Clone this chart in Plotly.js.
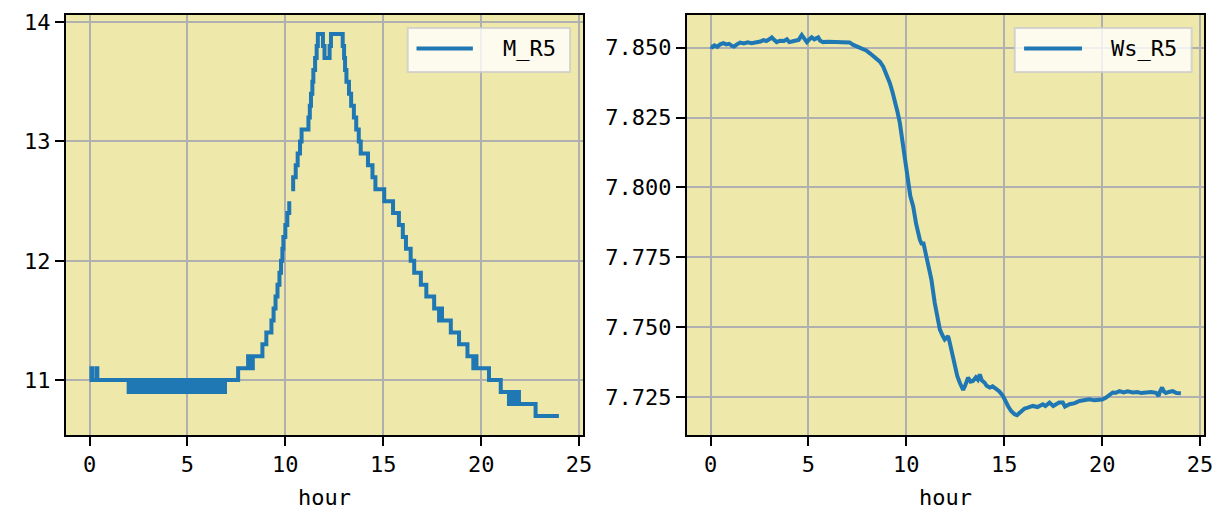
<!DOCTYPE html>
<html>
<head>
<meta charset="utf-8">
<script src="https://cdn.plot.ly/plotly-3.0.1.min.js"></script>
<style>html,body{margin:0;padding:0;background:#fff;}#chart{width:1224px;height:525px;}</style>
</head>
<body>
<div id="chart"></div>
<script>
// ---- Left panel: M_R5 (step data, hour vs value) ----
const hourM = [
  0.00, 0.10, 0.14, 0.36, 0.40,
  2.00, 2.05, 2.09, 2.16, 2.20, 2.27, 2.31, 2.38, 2.42, 2.49, 2.53, 2.60, 2.64, 2.72, 2.76, 2.83, 2.87, 2.95, 2.99, 3.06,
  3.10, 3.18, 3.22, 3.30, 3.34, 3.41, 3.45, 3.52, 3.58, 3.66, 3.80, 3.84, 3.88, 3.95, 3.99, 4.07, 4.11, 4.19, 4.23, 4.30,
  4.34, 4.42, 4.53, 4.60, 4.64, 4.72, 4.76, 4.83, 4.87, 4.95, 5.00, 5.07, 5.11, 5.19, 5.30, 5.38, 5.42, 5.50, 5.54, 5.62,
  5.66, 5.74, 5.78, 5.86, 5.90, 5.98, 6.02, 6.10, 6.14, 6.22, 6.26, 6.34, 6.38, 6.46, 6.50, 6.58, 6.62, 6.70, 6.74, 6.82,
  6.86, 6.92,
  7.59, 8.10, 8.14, 8.18, 8.22, 8.26, 8.30, 8.34, 8.83, 9.03, 9.29, 9.40, 9.50, 9.60, 9.70, 9.78, 9.85, 9.90, 10.00,
  10.10, 10.20, 10.27, 10.30, 10.40, 10.53, 10.63, 10.75, 10.83, 11.18, 11.25, 11.31, 11.38, 11.43, 11.52, 11.60, 11.66,
  11.92, 12.00, 12.26, 12.33, 12.93, 13.00, 13.05, 13.12, 13.25, 13.36, 13.50, 13.62, 13.75, 13.85, 14.22, 14.45, 14.60,
  15.05, 15.50, 15.80, 16.00, 16.16, 16.40, 16.58, 16.92, 17.20, 17.60, 17.85, 17.89, 17.93, 17.96, 18.00, 18.45, 18.87,
  19.30, 19.60, 19.64, 19.68, 19.72, 19.76, 20.40, 21.00, 21.42, 21.47, 21.52, 21.57, 21.62, 21.67, 21.72, 21.77, 21.82,
  21.87, 21.93, 22.78, 23.97
];
const valM = [
  11.0, 11.1, 11.0, 11.1, 11.0,
  10.9, 11.0, 10.9, 11.0, 10.9, 11.0, 10.9, 11.0, 10.9, 11.0, 10.9, 11.0, 10.9, 11.0, 10.9, 11.0, 10.9, 11.0, 10.9, 11.0,
  10.9, 11.0, 10.9, 11.0, 10.9, 11.0, 10.9, 11.0, 10.9, 11.0, 10.9, 11.0, 10.9, 11.0, 10.9, 11.0, 10.9, 11.0, 10.9, 11.0,
  10.9, 11.0, 10.9, 11.0, 10.9, 11.0, 10.9, 11.0, 10.9, 11.0, 10.9, 11.0, 10.9, 11.0, 10.9, 11.0, 10.9, 11.0, 10.9, 11.0,
  10.9, 11.0, 10.9, 11.0, 10.9, 11.0, 10.9, 11.0, 10.9, 11.0, 10.9, 11.0, 10.9, 11.0, 10.9, 11.0, 10.9, 11.0, 10.9, 11.0,
  10.9, 11.0,
  11.1, 11.2, 11.1, 11.2, 11.1, 11.2, 11.1, 11.2, 11.3, 11.4, 11.5, 11.6, 11.7, 11.8, 11.9, 12.0, 12.1, 12.2, 12.3,
  12.4, 12.5, null, 12.6, 12.7, 12.8, 12.9, 13.0, 13.1, 13.2, 13.3, 13.4, 13.5, 13.6, 13.7, 13.8, 13.9,
  13.8, 13.7, 13.8, 13.9, 13.8, 13.7, 13.6, 13.5, 13.4, 13.3, 13.2, 13.1, 13.0, 12.9, 12.8, 12.7, 12.6,
  12.5, 12.4, 12.3, 12.2, 12.1, 12.0, 11.9, 11.8, 11.7, 11.6, 11.5, 11.6, 11.5, 11.6, 11.5, 11.4, 11.3,
  11.2, 11.1, 11.2, 11.1, 11.2, 11.1, 11.0, 10.9, 10.8, 10.9, 10.8, 10.9, 10.8, 10.9, 10.8, 10.9, 10.8,
  10.9, 10.8, 10.7, 10.7
];

// ---- Right panel: Ws_R5 ----
const hourW = [
  0.00, 0.10, 0.20, 0.35, 0.50, 0.66, 0.80, 0.95, 1.10, 1.20, 1.35, 1.51, 1.70, 1.90, 2.10, 2.36, 2.55, 2.70, 2.85, 3.00,
  3.13, 3.25, 3.38, 3.55, 3.75, 3.90, 4.02, 4.15, 4.30, 4.50, 4.66, 4.80, 4.92, 5.05, 5.17, 5.30, 5.50, 5.60, 5.75, 6.00,
  6.26, 6.50, 6.70, 6.95, 7.10, 7.29, 7.45, 7.63, 7.80, 7.95, 8.14, 8.30, 8.48, 8.65, 8.82, 9.00, 9.16, 9.30, 9.41, 9.55,
  9.67, 9.75, 9.84, 9.95, 10.09, 10.20, 10.35, 10.50, 10.69, 10.80, 10.86, 10.95, 11.03, 11.15, 11.28, 11.45, 11.60, 11.71,
  11.85, 11.96, 12.05, 12.13, 12.20, 12.30, 12.47, 12.60, 12.73, 12.90, 13.00, 13.15, 13.28, 13.40, 13.55, 13.65, 13.75,
  13.85, 14.00, 14.10, 14.26, 14.40, 14.60, 14.75, 14.93, 15.05, 15.19, 15.35, 15.53, 15.65, 15.79, 15.90, 16.04, 16.20,
  16.46, 16.70, 16.97, 17.10, 17.31, 17.50, 17.65, 17.80, 17.99, 18.10, 18.33, 18.60, 18.84, 19.10, 19.35, 19.60, 19.85,
  20.00, 20.20, 20.40, 20.54, 20.70, 20.88, 21.10, 21.30, 21.56, 21.80, 22.00, 22.24, 22.50, 22.75, 22.88, 22.95, 23.06,
  23.15, 23.26, 23.40, 23.60, 23.80, 24.02
];
const valW = [
  7.8505, 7.8502, 7.8508, 7.8503, 7.8512, 7.8516, 7.8512, 7.8514, 7.8506, 7.8504, 7.8512, 7.8518, 7.8515, 7.8519, 7.8516,
  7.8518, 7.8522, 7.8527, 7.8524, 7.8530, 7.8537, 7.8528, 7.8520, 7.8525, 7.8524, 7.8530, 7.8520, 7.8522, 7.8525, 7.8528,
  7.8545, 7.8528, 7.8520, 7.8530, 7.8537, 7.8530, 7.8537, 7.8525, 7.8520, 7.8521, 7.8520, 7.8520, 7.8519, 7.8518, 7.8519,
  7.8510, 7.8505, 7.8498, 7.8495, 7.8490, 7.8480, 7.8470, 7.8462, 7.8450, 7.8432, 7.8405, 7.8373, 7.8340, 7.8313, 7.8270,
  7.8230, 7.8190, 7.8135, 7.8070, 7.8004, 7.7970, 7.7932, 7.7870, 7.7813, 7.7795, 7.7805, 7.7775, 7.7742, 7.7710, 7.7670,
  7.7587, 7.7520, 7.7492, 7.7470, 7.7456, 7.7462, 7.7468, 7.7450, 7.7420, 7.7360, 7.7325, 7.7301, 7.7275, 7.7290, 7.7319,
  7.7305, 7.7307, 7.7320, 7.7312, 7.7331, 7.7310, 7.7301, 7.7290, 7.7284, 7.7288, 7.7278, 7.7270, 7.7254, 7.7235, 7.7218,
  7.7200, 7.7188, 7.7185, 7.7194, 7.7202, 7.7209, 7.7212, 7.7218, 7.7214, 7.7224, 7.7218, 7.7230, 7.7218, 7.7224, 7.7230,
  7.7230, 7.7216, 7.7224, 7.7228, 7.7236, 7.7238, 7.7242, 7.7238, 7.7242, 7.7241, 7.7248, 7.7260, 7.7266, 7.7265, 7.7271,
  7.7266, 7.7270, 7.7266, 7.7268, 7.7264, 7.7266, 7.7268, 7.7265, 7.7254, 7.7270, 7.7284, 7.7270, 7.7264, 7.7268, 7.7271,
  7.7264, 7.7263
];

const xTicks = [0, 5, 10, 15, 20, 25];
const yTicksM = [11, 12, 13, 14];
const yTicksW = [7.725, 7.750, 7.775, 7.800, 7.825, 7.850];
const seriesNames = ['M_R5', 'Ws_R5'];
const xTitle = 'hour';

const lineColor = '#1f77b4';
const FONT = '"DejaVu Sans Mono", monospace';
const FS = 22;
const LW = 4;

const traces = [
  {x: hourM, y: valM, type: 'scatter', mode: 'lines', name: seriesNames[0],
   line: {color: lineColor, width: LW, shape: 'hv'}, connectgaps: false, xaxis: 'x', yaxis: 'y', showlegend: false},
  {x: hourW, y: valW, type: 'scatter', mode: 'lines', name: seriesNames[1],
   line: {color: lineColor, width: LW}, xaxis: 'x2', yaxis: 'y2', showlegend: false}
];

function xAxis(domain, anchor) {
  return {
    domain: domain, anchor: anchor, range: [-1.2, 25.2], tickvals: xTicks,
    ticks: 'outside', ticklen: 9, tickwidth: 2, tickcolor: '#000',
    showline: true, linecolor: '#000', linewidth: 2, mirror: true,
    showgrid: true, gridcolor: '#b0b0b0', gridwidth: 2, zeroline: false,
    tickfont: {family: FONT, size: FS, color: '#000'}, ticklabelstandoff: 0,
    title: {text: xTitle, font: {family: FONT, size: FS, color: '#000'}, standoff: 13}
  };
}
function yAxis(domain, anchor, range, tickvals, fmt) {
  return {
    domain: domain, anchor: anchor, range: range, tickvals: tickvals, tickformat: fmt,
    ticks: 'outside', ticklen: 9, tickwidth: 2, tickcolor: '#000',
    showline: true, linecolor: '#000', linewidth: 2, mirror: true,
    showgrid: true, gridcolor: '#b0b0b0', gridwidth: 2, zeroline: false,
    tickfont: {family: FONT, size: FS, color: '#000'}, ticklabelstandoff: 0
  };
}

// legend boxes drawn in axis-domain coordinates
function legendShapes(xr, yr, bx0, bx1, lx0, lx1) {
  return [
    {type: 'rect', xref: xr + ' domain', yref: yr + ' domain', x0: bx0, x1: bx1, y0: 0.864, y1: 0.969,
     fillcolor: 'rgba(255,255,255,0.8)', line: {color: 'rgba(204,204,204,0.8)', width: 2}, layer: 'above'},
    {type: 'line', xref: xr + ' domain', yref: yr + ' domain', x0: lx0, x1: lx1, y0: 0.9205, y1: 0.9205,
     line: {color: lineColor, width: LW}, layer: 'above'}
  ];
}

const layout = {
  width: 1224, height: 525,
  margin: {l: 66, r: 20, t: 15, b: 90},
  paper_bgcolor: '#ffffff', plot_bgcolor: '#EEE8AA',
  showlegend: false,
  xaxis: xAxis([0, 0.4543], 'y'),
  yaxis: yAxis([0, 1], 'x', [10.54, 14.06], yTicksM, ''),
  xaxis2: xAxis([0.5457, 1], 'y2'),
  yaxis2: yAxis([0, 1], 'x2', [7.7114, 7.8617], yTicksW, '.3f'),
  shapes: [].concat(
    legendShapes('x', 'y', 0.661, 0.975, 0.678, 0.787),
    legendShapes('x2', 'y2', 0.634, 0.976, 0.652, 0.764)
  ),
  annotations: [
    {xref: 'x domain', yref: 'y domain', x: 0.952, y: 0.9205, xanchor: 'right', yanchor: 'middle',
     text: seriesNames[0], showarrow: false, font: {family: FONT, size: FS, color: '#000'}},
    {xref: 'x2 domain', yref: 'y2 domain', x: 0.952, y: 0.9205, xanchor: 'right', yanchor: 'middle',
     text: seriesNames[1], showarrow: false, font: {family: FONT, size: FS, color: '#000'}}
  ]
};

Plotly.newPlot('chart', traces, layout, {displayModeBar: false, staticPlot: true});
</script>
</body>
</html>
